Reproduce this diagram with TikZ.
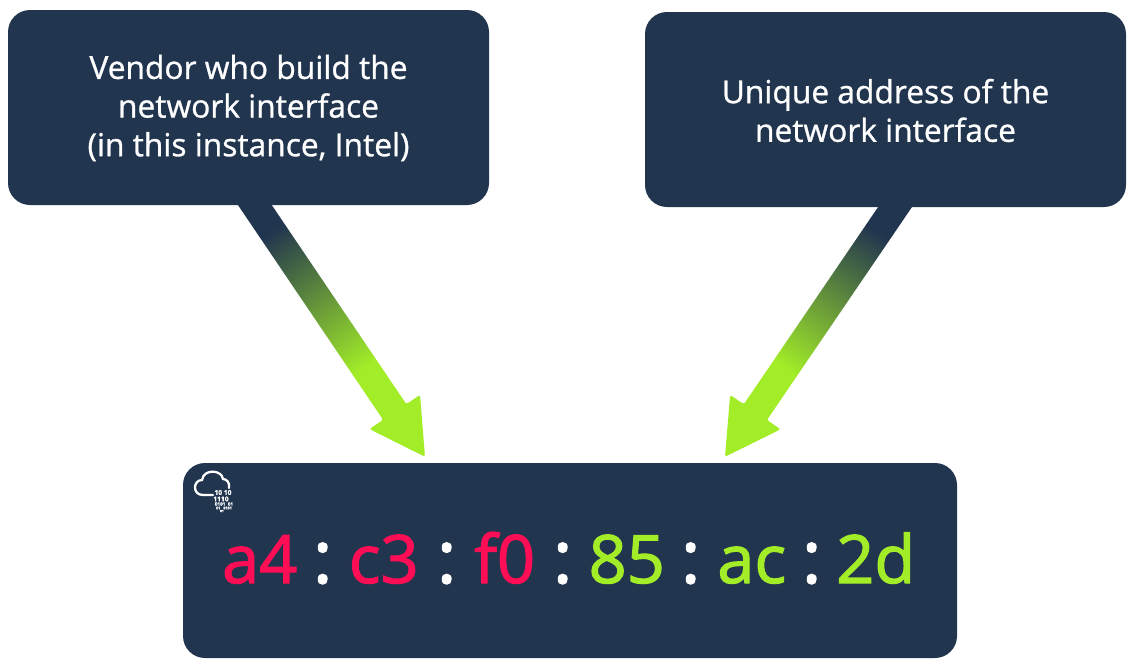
\documentclass[tikz,border=0pt]{standalone}
\usepackage{fontspec}
\setmainfont{Open Sans}[FakeBold=0.9]
\newfontfamily\hexfont{Open Sans}[FakeBold=1.8]
\usetikzlibrary{calc}
\definecolor{navy}{HTML}{22354F}
\definecolor{lime}{HTML}{A2EC28}
\definecolor{rouge}{HTML}{FF0D55}
\pgfdeclarehorizontalshading{fade}{100bp}{color(0bp)=(navy); color(17bp)=(navy); color(67bp)=(lime); color(100bp)=(lime)}
\tikzstyle{info}=[fill=navy, rounded corners=16.5pt, minimum width=360.75pt, minimum height=146.25pt]
\tikzstyle{infotext}=[text=white, align=center, font=\fontsize{23.8}{29}\selectfont]
\tikzstyle{mac}=[fill=navy, rounded corners=16.5pt, minimum width=580.5pt, minimum height=146.25pt]
\tikzstyle{hex}=[anchor=base, inner sep=0, font=\hexfont\fontsize{50}{50}\selectfont]
\tikzstyle{vendorhex}=[hex, text=rouge]
\tikzstyle{uniquehex}=[hex, text=lime]
\tikzstyle{sep}=[hex, text=white, font=\hexfont\fontsize{55}{55}\selectfont]
\tikzstyle{bits}=[text=white, inner sep=0, font=\bfseries]
\newcommand{\pointer}[2]{
    \path let \p1=($(#2)-(#1)$), \n1={atan2(\y1,\x1)}, \n2={veclen(\x1,\y1)} in
        \pgfextra{\pgfmathsetmacro{\tmpang}{\n1}\xdef\pang{\tmpang}\pgfmathsetlengthmacro{\tmplen}{\n2}\xdef\plen{\tmplen}};
    \begin{scope}[shift={(#1)}, rotate=\pang]
        \clip[rounded corners=1.2pt] (0pt,-10.5pt) -- ({\plen-40.5pt},-10.5pt) -- ({\plen-40.5pt},-22.9pt)
            -- (\plen,0pt) -- ({\plen-40.5pt},22.9pt) -- ({\plen-40.5pt},10.5pt) -- (0pt,10.5pt) -- cycle;
        \pgfmathsetmacro{\pscale}{\plen/100}
        \pgftransformshift{\pgfpoint{0.5*\plen}{0pt}}
        \pgftransformscale{\pscale}
        \pgftext{\pgfuseshading{fade}}
    \end{scope}
}

\begin{document}
\begin{tikzpicture}[x=0.75pt,y=-0.75pt]
    \useasboundingbox (0,0) rectangle (1140,669);

    \node (vendor)[info] at (248.5,107.5) {};
    \node (unique)[info] at (885.5,109.5) {};
    \node (addr)[mac] at (570,560.5) {};
    \path (vendor.center)+(0,0.5) node (vendortext)[infotext]
        {Vendor who build the\\network interface\\(in this instance, Intel)};
    \path (unique.center)+(0,1) node (uniquetext)[infotext]
        {Unique address of the\\network interface};

    %%% arrows
    \path (vendor.south)+(-7,-20) coordinate (vfoot);
    \path (unique.south)+(23,-20) coordinate (ufoot);
    \path (addr.north)+(-145,-6) coordinate (vtip);
    \path (addr.north)+(155,-6) coordinate (utip);
    \pointer{vfoot}{vtip}
    \pointer{ufoot}{utip}

    %%% address
    \path (addr.west)+(77,22.5) coordinate (base);
    \path (base)+(0,0) node (a4)[vendorhex] {a4};
    \path (base)+(63,0) node (s1)[sep] {:};
    \path (base)+(124,0) node (c3)[vendorhex] {c3};
    \path (base)+(187,0) node (s2)[sep] {:};
    \path (base)+(245,0) node (f0)[vendorhex] {f0};
    \path (base)+(303,0) node (s3)[sep] {:};
    \path (base)+(367,0) node (o85)[uniquehex] {85};
    \path (base)+(431,0) node (s4)[sep] {:};
    \path (base)+(492,0) node (ac)[uniquehex] {ac};
    \path (base)+(552,0) node (s5)[sep] {:};
    \path (base)+(616,0) node (o2d)[uniquehex] {2d};

    %%% cloud
    \draw[white, line width=1.7pt, line cap=round]
        (213,495) -- (203,495) .. controls (192,495) and (193,480) .. (202,480)
        .. controls (204,468) and (222,470) .. (223,479)
        .. controls (227,479) and (230,483) .. (229,488);
    \node (b1)[bits] at (223,492.5) {\fontsize{5}{5}\selectfont 10 10};
    \node (b2)[bits] at (221,499) {\fontsize{5}{5}\selectfont 1110};
    \node (b3)[bits] at (224,504) {\fontsize{3.5}{3.5}\selectfont 0101 \ 01};
    \node (b4)[bits] at (224,508) {\fontsize{2.8}{2.8}\selectfont 01 \ \ 0101};
    \node (b5)[bits] at (222,511) {\fontsize{2.5}{2.5}\selectfont 01};
\end{tikzpicture}
\end{document}
